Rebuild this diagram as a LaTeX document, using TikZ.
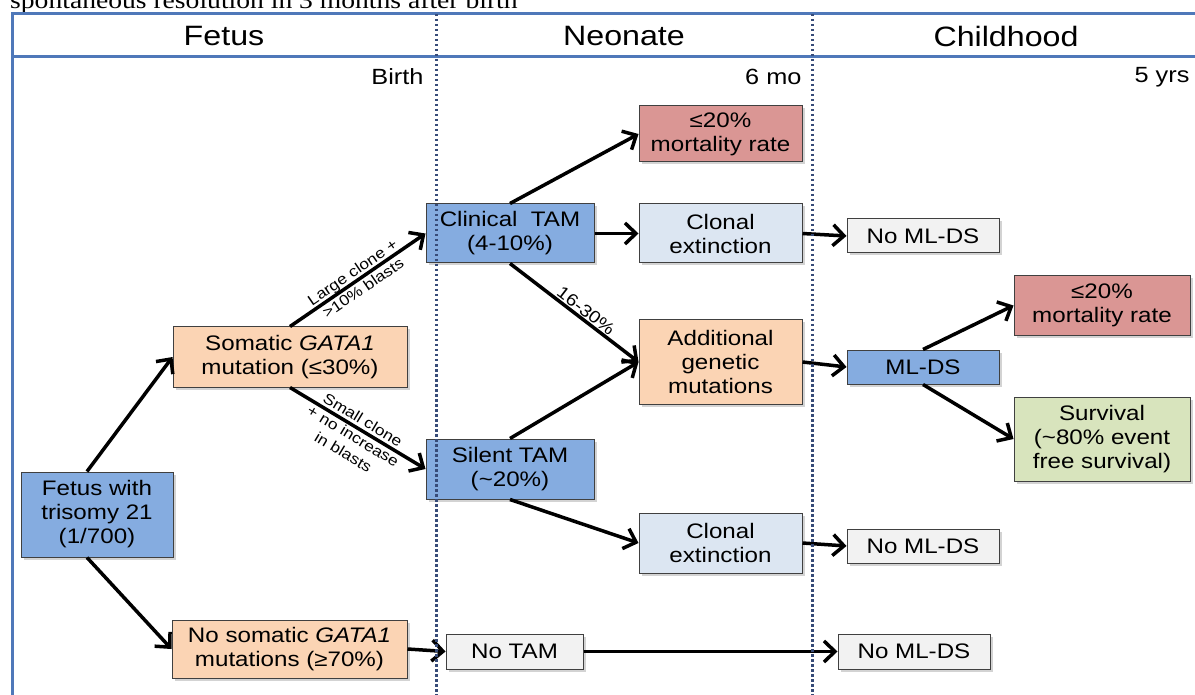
\documentclass[tikz,border=0pt]{standalone}
\usepackage{fontspec}
\setmainfont{Liberation Sans}[FakeStretch=1.15]
\newfontfamily\captionfont{Liberation Serif}[FakeStretch=1.15]
\usetikzlibrary{arrows.meta, shadows}
\definecolor{tamblue}{RGB}{133,172,224}
\definecolor{peach}{RGB}{251,212,180}
\definecolor{paleblue}{RGB}{220,230,242}
\definecolor{rosered}{RGB}{218,150,148}
\definecolor{sage}{RGB}{216,228,189}
\definecolor{nogray}{RGB}{242,242,242}
\definecolor{framebl}{RGB}{79,120,185}
\definecolor{divider}{RGB}{55,75,120}
\tikzset{
  stage/.style={draw=black!75, line width=1pt, align=center, inner sep=2pt,
    font=\fontsize{21}{24}\selectfont,
    drop shadow={shadow xshift=2.5pt, shadow yshift=-2.5pt, opacity=0.35}},
  flow/.style={line width=3.5pt, -{Straight Barb[length=11pt, width=21pt]}},
  edgelabel/.style={font=\fontsize{15}{19}\selectfont, align=center, inner sep=1pt},
  frame/.style={framebl, line width=3pt},
  divide/.style={divider, line width=3pt, dash pattern=on 2.5pt off 2.5pt},
  headtext/.style={font=\fontsize{28}{30}\selectfont},
  marktext/.style={anchor=east, font=\fontsize{22}{24}\selectfont}
}

\begin{document}
\begin{tikzpicture}[x=1pt, y=-1pt]
		\useasboundingbox (0,0) rectangle (1195,695);
		\node[anchor=base west, inner sep=0pt, font=\captionfont\fontsize{24}{26}\selectfont] (caption) at (10,9) {spontaneous resolution in 3 months after birth};
		% header
		\node[headtext] (fetushead) at (224,36) {Fetus};
		\node[headtext] (neohead) at (624,36) {Neonate};
		\node[headtext] (childhead) at (1006,36) {Childhood};
		\node[marktext] (birth) at (427,77) {Birth};
		\node[marktext] (sixmo) at (805,77) {6 mo};
		\node[marktext] (fiveyr) at (1193,77) {5 yrs};
		% fetus
		\node[stage, fill=tamblue, minimum width=152, minimum height=85] (fetus) at (97,514.5) {Fetus with\\trisomy 21\\(1/700)};
		\node[stage, fill=peach, minimum width=234, minimum height=60] (somatic) at (290,357) {Somatic \textit{GATA1}\\mutation (≤30\%)};
		\node[stage, fill=peach, minimum width=235, minimum height=58] (nosomatic) at (289.5,649) {No somatic \textit{GATA1}\\mutations (≥70\%)};
		% neonate
		\node[stage, fill=tamblue, minimum width=168, minimum height=59] (clinical) at (510,233.5) {Clinical\ \ TAM\\(4-10\%)};
		\node[stage, fill=tamblue, minimum width=168, minimum height=60] (silent) at (510,469) {Silent TAM\\(\textasciitilde20\%)};
		\node[stage, fill=nogray, minimum width=137, minimum height=35] (notam) at (514.5,651.5) {No TAM};
		\node[stage, fill=rosered, minimum width=163, minimum height=56] (mortneo) at (720.5,134) {≤20\%\\mortality rate};
		\node[stage, fill=paleblue, minimum width=163, minimum height=59] (extinctA) at (720.5,233.5) {Clonal\\extinction};
		\node[stage, fill=peach, minimum width=163, minimum height=84] (additional) at (720.5,362) {Additional\\genetic\\mutations};
		\node[stage, fill=paleblue, minimum width=163, minimum height=60] (extinctB) at (720.5,543) {Clonal\\extinction};
		% childhood
		\node[stage, fill=nogray, minimum width=152, minimum height=34] (nomlA) at (923,236) {No ML-DS};
		\node[stage, fill=tamblue, minimum width=152, minimum height=34] (mlds) at (923,367) {ML-DS};
		\node[stage, fill=nogray, minimum width=152, minimum height=34] (nomlB) at (923,546) {No ML-DS};
		\node[stage, fill=nogray, minimum width=152, minimum height=35] (nomlC) at (914,651.5) {No ML-DS};
		\node[stage, fill=rosered, minimum width=176, minimum height=59] (mortchild) at (1102,305.5) {≤20\%\\mortality rate};
		\node[stage, fill=sage, minimum width=176, minimum height=84] (survival) at (1102,439) {Survival\\(\textasciitilde80\% event\\free survival)};
		% arrows
		\draw[flow] ([xshift=-10pt]fetus.north) -- (somatic.west);
		\draw[flow] ([xshift=-10pt]fetus.south) -- (nosomatic.west);
		\draw[flow] (somatic.north) -- node[edgelabel, sloped] {Large clone +\\>10\% blasts} (clinical.west);
		\draw[flow] (somatic.south) -- node[edgelabel, sloped, yshift=-9pt] {Small clone\\+ no increase\\in blasts} (silent.west);
		\draw[flow] (nosomatic.east) -- (notam.west);
		\draw[flow] (clinical.north) -- (mortneo.west);
		\draw[flow] (clinical.east) -- (extinctA.west);
		\draw[flow] (clinical.south) -- node[edgelabel, sloped, above, pos=0.55, font=\fontsize{17}{17}\selectfont] {16-30\%} (additional.west);
		\draw[flow] (silent.north) -- (additional.west);
		\draw[flow] (silent.south) -- (extinctB.west);
		\draw[flow] (extinctA.east) -- (nomlA.west);
		\draw[flow] (additional.east) -- (mlds.west);
		\draw[flow] (extinctB.east) -- (nomlB.west);
		\draw[flow] (notam.east) -- (nomlC.west);
		\draw[flow] (mlds.north) -- (mortchild.west);
		\draw[flow] (mlds.south) -- (survival.west);
		% frame and stage dividers
		\draw[frame] (12,695) -- (12,14) -- (1195,14);
		\draw[frame] (12,57) -- (1195,57);
		\foreach \x in {436,812} \draw[divide] (\x,14) -- (\x,695);
	\end{tikzpicture}
\end{document}
